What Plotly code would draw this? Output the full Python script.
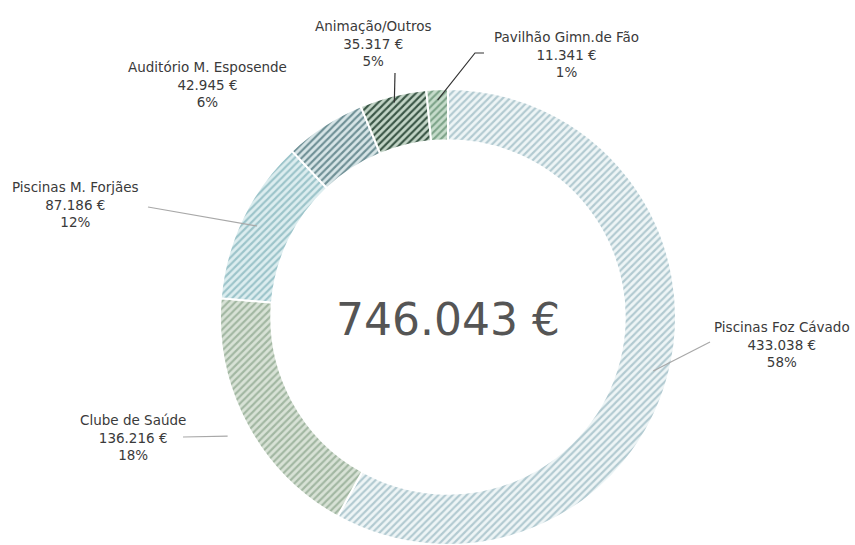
import math
import plotly.graph_objects as go

# ---- data ----
categories = ["Piscinas Foz Cávado", "Clube de Saúde", "Piscinas M. Forjães",
              "Auditório M. Esposende", "Animação/Outros", "Pavilhão Gimn.de Fão"]
values = [433038, 136216, 87186, 42945, 35317, 11341]
pct_labels = ["58%", "18%", "12%", "6%", "5%", "1%"]

# ---- styles ----
bg_colors = ["#eef5f6", "#d8e2d6", "#dcedef", "#d7e5e7", "#c3d5c7", "#c6dccb"]
fg_colors = ["#b2cad1", "#a2b7a2", "#9cc4ca", "#6f9096", "#3a5646", "#7ea48a"]

W, H = 855, 545
CX, CY, R = 448, 318, 229   # pie centre / radius in screen pixels
HOLE = 0.775

def fmt(v):
    return f"{v:,}".replace(",", ".") + " €"

total = sum(values)

def fx(x):  # screen px -> paper
    return x / W

def fy(y):
    return 1 - y / H

fig = go.Figure(go.Pie(
    labels=categories, values=values, sort=False, direction="clockwise",
    rotation=0, hole=HOLE, textinfo="none", hoverinfo="label+value+percent",
    showlegend=False,
    marker=dict(colors=bg_colors,
                line=dict(color="white", width=2),
                pattern=dict(shape="/", bgcolor=bg_colors, fgcolor=fg_colors,
                             size=5, solidity=0.42, fillmode="replace")),
    domain=dict(x=[fx(CX - R), fx(CX + R)], y=[max(0, fy(CY + R)), fy(CY - R)]),
))

# slice mid angles (degrees clockwise from top), from data
mids = []
acc = 0
for v in values:
    mids.append((acc + v / 2) / total * 360)
    acc += v

def ring_point(i, r):
    a = math.radians(mids[i])
    return CX + r * math.sin(a), CY - r * math.cos(a)

# label placement (screen pixels): centre x, centre y
label_pos = [(782, 344), (133, 437), (75, 204), (207, 84), (373, 43), (566, 54)]
# leader lines: start point(s), radius of end point, colour
leaders = {
    0: ([(710, 342)], 212, "#a8a8a8"),
    1: ([(183, 437)], 250, "#a8a8a8"),
    2: ([(148, 207)], 212, "#a8a8a8"),
    4: ([(395, 73)], 222, "#333333"),
    5: ([(484, 53), (475, 53)], 218, "#333333"),
}

annotations = []
for i, name in enumerate(categories):
    x, y = label_pos[i]
    annotations.append(dict(
        x=fx(x), y=fy(y), xref="paper", yref="paper", showarrow=False,
        text=f"{name}<br>{fmt(values[i])}<br>{pct_labels[i]}",
        font=dict(family="DejaVu Sans", size=13.5, color="#3a3a3a"),
        align="center", xanchor="center", yanchor="middle"))

annotations.append(dict(
    x=fx(CX), y=fy(CY + 1), xref="paper", yref="paper", showarrow=False,
    text=fmt(total), font=dict(family="DejaVu Sans", size=44, color="#555555"),
    xanchor="center", yanchor="middle"))

shapes = []
for i, (pts, r, col) in leaders.items():
    ex, ey = ring_point(i, r)
    allp = pts + [(ex, ey)]
    path = "M " + " L ".join(f"{fx(a):.5f},{fy(b):.5f}" for a, b in allp)
    shapes.append(dict(type="path", path=path, xref="paper", yref="paper",
                       line=dict(color=col, width=1.2)))

fig.update_layout(width=W, height=H, margin=dict(l=0, r=0, t=0, b=0),
                  paper_bgcolor="white", plot_bgcolor="white",
                  annotations=annotations, shapes=shapes)

fig.write_html("out.html",
               config={"displayModeBar": False},
               post_script="document.body.style.margin='0';"
                           "document.documentElement.style.overflow='hidden';"
                           "document.body.style.overflow='hidden';")
